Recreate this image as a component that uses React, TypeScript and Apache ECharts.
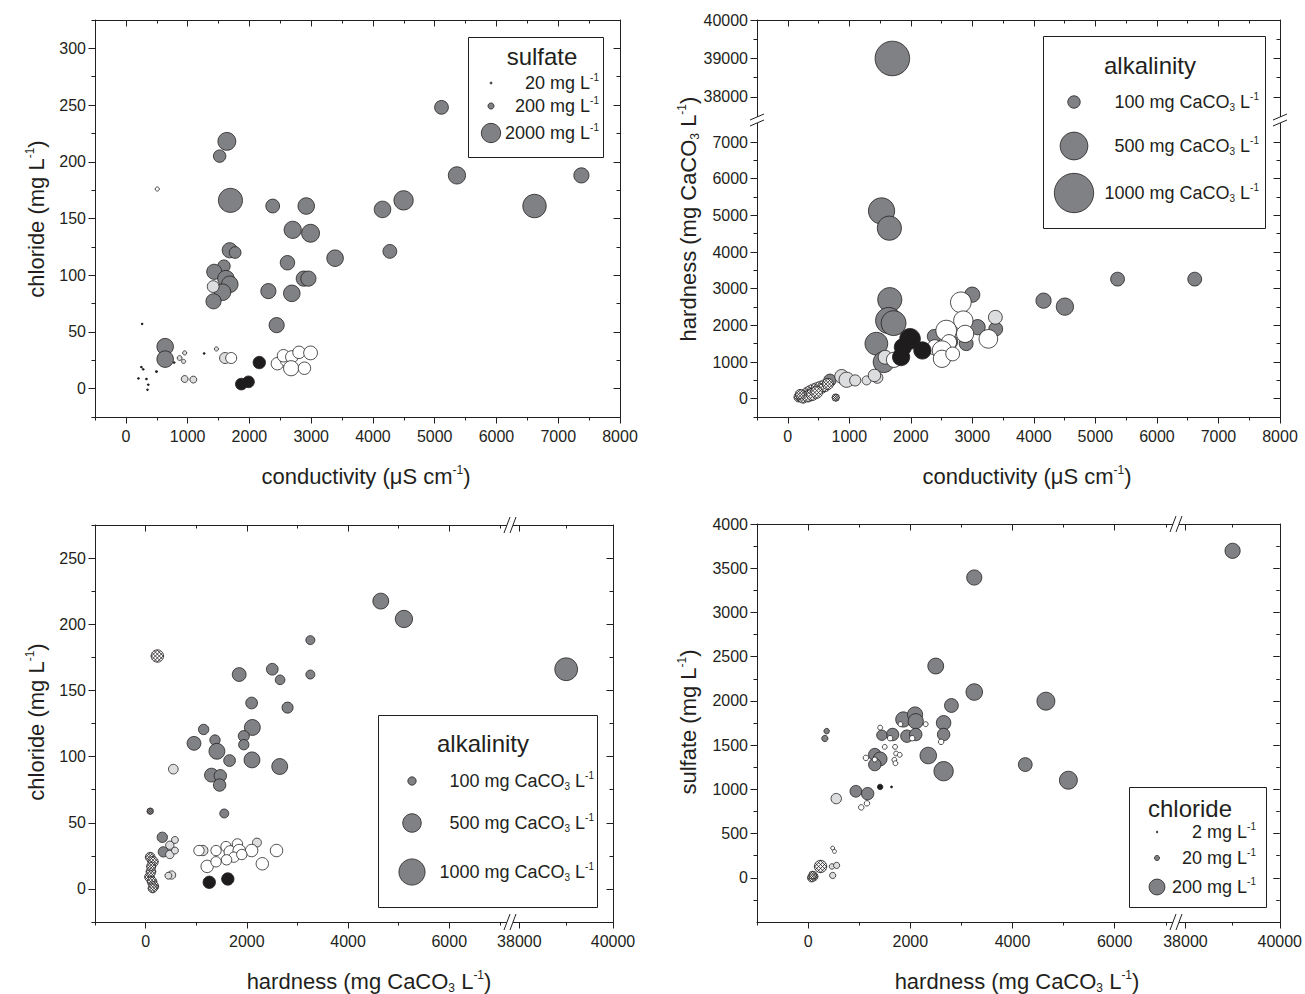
import React, { useEffect, useRef } from 'react';
import * as echarts from 'echarts';

type Pt = [number, number, number];

// ---------- Panel (a): conductivity (µS/cm) vs chloride (mg/L); symbol area ~ sulfate (mg/L)
const aDark: Pt[] = [
  [5110, 248, 1020], [1635, 218, 1720], [1518, 205, 830], [1693, 166, 3120], [2377, 161, 1020],
  [2920, 161, 1470], [5360, 188, 1590], [7375, 188, 1230], [4496, 166, 2000], [6616, 161, 2950],
  [4155, 158, 1470], [2701, 140, 1590], [2990, 137, 1720], [4274, 121, 1020], [1682, 122, 1230],
  [1769, 120, 740], [3387, 115, 1470], [2616, 111, 1120], [1588, 108, 830], [1431, 103, 1230],
  [1620, 97, 1470], [1682, 92, 1470], [2880, 97, 1230], [2955, 97, 1230], [2307, 86, 1230],
  [2686, 84, 1470], [1565, 85, 1470], [1419, 77, 1230], [2441, 56, 1230], [636, 37, 1470], [636, 26, 1470],
];
const aLight: Pt[] = [
  [1413, 90, 740], [1606, 27, 650], [952, 8.5, 255], [1092, 8, 255], [870, 27, 125],
  [952, 31.5, 92], [934, 24, 92], [1466, 35, 92],
];
const aWhite: Pt[] = [
  [508, 176, 92], [1705, 27, 650], [2453, 22, 830], [2600, 25, 830], [2552, 29, 830],
  [2686, 28, 830], [2675, 18, 1230], [2891, 18, 830], [2803, 32, 830], [2990, 31.5, 1020],
];
const aBlack: Pt[] = [[2160, 23, 830], [1869, 4, 740], [1985, 6, 740]];
const aHatch: Pt[] = [
  [263, 57, 8], [251, 19, 8], [280, 17, 8], [204, 9, 6], [333, 8.5, 6], [362, 3.5, 6],
  [350, -1, 6], [496, 15, 20], [782, 23, 10], [1267, 31, 10],
];

// ---------- Panel (b): conductivity vs hardness (mg CaCO3/L); symbol area ~ alkalinity
const bDark: Pt[] = [
  [1700, 39000, 772], [1524, 5120, 446], [1651, 4650, 378], [1658, 2700, 378], [1640, 2130, 446],
  [1720, 2060, 400], [1440, 1500, 336], [1560, 1000, 290], [5360, 3260, 124], [6614, 3260, 124],
  [4157, 2673, 150], [4504, 2510, 193], [2998, 2836, 150], [3085, 1950, 150], [3380, 1900, 124],
  [2380, 1700, 124], [2650, 1550, 124], [2900, 1500, 124], [685, 500, 100],
];
const bLight: Pt[] = [
  [3374, 2220, 124], [1582, 1130, 124], [876, 607, 124], [957, 516, 150], [1096, 498, 80],
  [1281, 498, 52], [1455, 571, 80], [1409, 634, 100],
];
const bWhite: Pt[] = [
  [2813, 2627, 278], [2853, 2130, 242], [2575, 1857, 278], [2882, 1767, 193], [3260, 1631, 225],
  [2621, 1540, 150], [2390, 1400, 150], [2506, 1314, 242], [2506, 1087, 193], [2680, 1220, 124],
  [1727, 1060, 150],
];
const bBlack: Pt[] = [[1987, 1631, 278], [1871, 1404, 193], [2188, 1314, 193], [1842, 1133, 193]];
const bHatch: Pt[] = [
  [180, 40, 60], [230, 70, 80], [280, 100, 90], [330, 150, 100], [380, 190, 110], [430, 230, 110],
  [480, 270, 100], [540, 310, 100], [600, 350, 90], [250, 20, 70], [330, 60, 80], [400, 110, 90],
  [470, 170, 90], [200, 120, 60], [650, 400, 80], [780, 30, 35],
];

// ---------- Panel (c): hardness vs chloride; symbol area ~ alkalinity
const cDark: Pt[] = [
  [4647, 217.5, 367], [5104, 204, 434], [39000, 166, 756], [3255, 188, 117], [3255, 162, 117],
  [2503, 166, 200], [2657, 158, 136], [1849, 162, 278], [2095, 140.5, 200], [2805, 137, 178],
  [2109, 122, 367], [1940, 115.5, 178], [1940, 109, 156], [1146, 120.5, 156], [956, 110, 278],
  [1371, 112.5, 156], [1409, 104, 367], [1659, 97, 200], [2102, 97.5, 367], [2650, 92.5, 367],
  [1301, 86, 278], [1476, 85.5, 225], [1462, 78.5, 225], [1554, 57, 117], [330, 39, 156], [351, 28, 156],
];
const cLight: Pt[] = [
  [548, 90.5, 136], [478, 33, 100], [580, 37, 70], [478, 26, 100], [580, 29, 70],
  [513, 10.5, 100], [450, 10, 70], [2200, 35, 117], [1130, 29, 156],
];
const cWhite: Pt[] = [
  [1054, 29, 156], [1392, 29, 156], [1589, 32, 156], [1673, 28, 225], [1814, 34, 156],
  [1849, 29, 225], [2095, 29, 225], [2587, 29, 225], [2306, 19, 225], [1216, 17, 225],
  [1392, 20.5, 156], [1744, 24, 156], [1600, 22, 156], [1900, 26, 156],
];
const cBlack: Pt[] = [[1258, 5, 225], [1624, 7.5, 225]];
const cHatch: Pt[] = [
  [232, 176, 225], [91, 58.75, 60], [91, 24, 136], [147, 20.5, 156], [77, 9, 136],
  [127, 5.5, 136], [162, 2, 136], [106, 13, 136], [110, 17, 120], [140, 0.5, 120],
];

// ---------- Panel (d): hardness vs sulfate; symbol area ~ chloride
const dDark: Pt[] = [
  [39000, 3697, 184], [3252, 3395, 184], [2498, 2394, 200], [3252, 2100, 219], [2805, 1948, 152],
  [4654, 1997, 257], [2652, 1752, 168], [2652, 1620, 123], [2352, 1382, 219], [2652, 1205, 298],
  [4250, 1280, 152], [5094, 1103, 257], [1863, 1790, 184], [2093, 1846, 184], [2107, 1770, 184],
  [1654, 1620, 123], [1933, 1601, 123], [2107, 1620, 123], [1444, 1612, 86], [1305, 1393, 123],
  [1410, 1344, 152], [1305, 1280, 123], [935, 978, 110], [1165, 951, 123], [363, 1658, 24], [328, 1575, 31],
];
const dLight: Pt[] = [[551, 895, 86], [467, 128, 24], [558, 140, 31], [481, 26, 31]];
const dWhite: Pt[] = [
  [1410, 1698, 19], [1605, 1578, 24], [1807, 1737, 19], [2037, 1578, 24], [2302, 1737, 19],
  [2603, 1537, 24], [1500, 1480, 19], [1702, 1480, 19], [1723, 1405, 19], [1793, 1390, 19],
  [1688, 1333, 19], [1709, 1295, 19], [1131, 1356, 24], [1305, 1337, 19], [1040, 796, 24], [1152, 842, 24],
  [481, 336, 12], [516, 298, 12],
];
const dBlack: Pt[] = [[1410, 1027, 24], [1633, 1027, 3.4]];
const dHatch: Pt[] = [[244, 128, 123], [105, 15, 64], [70, 0, 55], [90, 30, 50]];

// ---------- legend values
const sulfateLegend = [20, 200, 2000];
const alkLegend = [100, 500, 1000];
const chlorideLegend = [2, 20, 200];

// ---------- ticks
const condMajor = [0, 1000, 2000, 3000, 4000, 5000, 6000, 7000, 8000];
const condMinor = [-500, 500, 1500, 2500, 3500, 4500, 5500, 6500, 7500];
const clMajorA = [0, 50, 100, 150, 200, 250, 300];
const clMinorA = [-25, 25, 75, 125, 175, 225, 275, 325];
const hardUpMajor = [38000, 39000, 40000];
const hardUpMinor = [38500, 39500];
const hardLoMajor = [0, 1000, 2000, 3000, 4000, 5000, 6000, 7000];
const hardLoMinor = [-500, 500, 1500, 2500, 3500, 4500, 5500, 6500];
const hardXLoMajor = [0, 2000, 4000, 6000];
const hardXLoMinor = [-1000, 1000, 3000, 5000, 7000];
const hardXUpMajor = [38000, 40000];
const hardXUpMinor = [39000];
const clMajorC = [0, 50, 100, 150, 200, 250];
const clMinorC = [-25, 25, 75, 125, 175, 225, 275];
const so4Major = [0, 500, 1000, 1500, 2000, 2500, 3000, 3500, 4000];
const so4Minor = [-250, 250, 750, 1250, 1750, 2250, 2750, 3250, 3750];

const INK = '#231f20';
const FONT = "'Liberation Sans', Arial, Helvetica, sans-serif";
const C_DARK = '#808184';
const C_LIGHT = '#dcddde';
const C_WHITE = '#ffffff';
const C_BLACK = '#1e1c1d';

interface Seg { min: number; max: number; p0: number; p1: number; major: number[]; minor: number[] }
interface Group { data: Pt[]; fill: string; symbol?: string }
interface Panel { k: number; xs: Seg[]; ys: Seg[]; groups: Group[] }

// cross-hatched circle symbol (unit circle with chords in both diagonal directions)
function hatchSymbol(): string {
  let d = 'M1 0A1 1 0 1 1 -1 0A1 1 0 1 1 1 0Z';
  const s = Math.SQRT1_2;
  const f = (v: number) => v.toFixed(3);
  [-0.66, -0.22, 0.22, 0.66].forEach((o) => {
    const h = Math.sqrt(1 - o * o);
    const ax = o * s, ay = o * s;
    d += `M${f(ax + h * s)} ${f(ay - h * s)}L${f(ax - h * s)} ${f(ay + h * s)}`;
    const bx = o * s, by = -o * s;
    d += `M${f(bx + h * s)} ${f(by + h * s)}L${f(bx - h * s)} ${f(by - h * s)}`;
  });
  return 'path://' + d;
}

function richStyle(fs: number) {
  const small = Math.round(fs * 0.55);
  return {
    t: { fontSize: fs, fontFamily: FONT, fill: INK, lineHeight: Math.round(fs * 1.15) },
    sup: { fontSize: small, fontFamily: FONT, fill: INK, verticalAlign: 'top', lineHeight: small },
    sub: { fontSize: small, fontFamily: FONT, fill: INK, verticalAlign: 'bottom', lineHeight: small },
  };
}

function textEl(text: string, x: number, y: number, fs: number, align: string, rotation = 0) {
  return {
    type: 'text', x, y, rotation, z: 100, silent: true,
    style: {
      text, x: 0, y: 0, fill: INK, fontSize: fs, fontFamily: FONT,
      align, textAlign: align, verticalAlign: 'middle', textVerticalAlign: 'middle',
      rich: richStyle(fs),
    },
  };
}

function buildOption() {
  const grids: any[] = [];
  const xAxes: any[] = [];
  const yAxes: any[] = [];
  const series: any[] = [];
  const graphics: any[] = [];
  const hatch = hatchSymbol();

  const decor = (kind: 'x' | 'y', gi: number, s: Seg, position: string, inside: boolean, labels: boolean, minor: boolean) => ({
    type: 'value', gridIndex: gi, position, min: s.min, max: s.max, silent: true,
    axisLine: { show: !minor, onZero: false, lineStyle: { color: INK, width: 1 } },
    axisTick: { show: true, inside, length: minor ? 3.5 : 6.5, customValues: minor ? s.minor : s.major, lineStyle: { color: INK, width: 1 } },
    axisLabel: labels && !minor
      ? { show: true, customValues: s.major, formatter: (v: number) => String(v), margin: kind === 'x' ? 11 : 9, color: INK, fontSize: 16, fontFamily: FONT }
      : { show: false },
    splitLine: { show: false },
    z: 6,
  });

  const addPanel = (p: Panel) => {
    p.xs.forEach((xs, i) => {
      p.ys.forEach((ys, j) => {
        const gi = grids.length;
        grids.push({ left: xs.p0, top: ys.p0, width: xs.p1 - xs.p0, height: ys.p1 - ys.p0, containLabel: false, show: false });
        const xi = xAxes.length;
        xAxes.push({ type: 'value', gridIndex: gi, show: false, min: xs.min, max: xs.max, splitLine: { show: false } });
        const yi = yAxes.length;
        yAxes.push({ type: 'value', gridIndex: gi, show: false, min: ys.min, max: ys.max, splitLine: { show: false } });
        if (j === p.ys.length - 1) {
          xAxes.push(decor('x', gi, xs, 'bottom', false, true, false));
          xAxes.push(decor('x', gi, xs, 'bottom', false, false, true));
        }
        if (j === 0) {
          xAxes.push(decor('x', gi, xs, 'top', true, false, false));
          xAxes.push(decor('x', gi, xs, 'top', true, false, true));
        }
        if (i === 0) {
          yAxes.push(decor('y', gi, ys, 'left', false, true, false));
          yAxes.push(decor('y', gi, ys, 'left', false, false, true));
        }
        if (i === p.xs.length - 1) {
          yAxes.push(decor('y', gi, ys, 'right', true, false, false));
          yAxes.push(decor('y', gi, ys, 'right', true, false, true));
        }
        p.groups.forEach((g, order) => {
          const pts = g.data.filter((d) => d[0] >= xs.min && d[0] <= xs.max && d[1] >= ys.min && d[1] <= ys.max);
          if (!pts.length) return;
          series.push({
            type: 'scatter', xAxisIndex: xi, yAxisIndex: yi, data: pts, symbol: g.symbol || 'circle',
            symbolSize: (v: number[]) => Math.max(1.6, p.k * Math.sqrt(v[2])),
            itemStyle: { color: g.fill, borderColor: INK, borderWidth: 0.8, opacity: 1 },
            silent: true, z: 3 + order, clip: false,
            emphasis: { disabled: true },
          });
        });
      });
    });
  };

  const groupsOf = (d: Pt[], l: Pt[], w: Pt[], b: Pt[], h: Pt[]): Group[] => [
    { data: d, fill: C_DARK }, { data: l, fill: C_LIGHT }, { data: w, fill: C_WHITE },
    { data: b, fill: C_BLACK }, { data: h, fill: C_WHITE, symbol: hatch },
  ];

  const kA = 0.432, kB = 1.243, kC = 0.829, kD = 1.12;

  addPanel({
    k: kA,
    xs: [{ min: -500, max: 8000, p0: 95, p1: 620, major: condMajor, minor: condMinor }],
    ys: [{ min: -25, max: 325, p0: 20, p1: 417, major: clMajorA, minor: clMinorA }],
    groups: groupsOf(aDark, aLight, aWhite, aBlack, aHatch),
  });
  addPanel({
    k: kB,
    xs: [{ min: -500, max: 8000, p0: 757, p1: 1280, major: condMajor, minor: condMinor }],
    ys: [
      { min: 37400, max: 40000, p0: 20, p1: 120, major: hardUpMajor, minor: hardUpMinor },
      { min: -500, max: 7600, p0: 120, p1: 417, major: hardLoMajor, minor: hardLoMinor },
    ],
    groups: groupsOf(bDark, bLight, bWhite, bBlack, bHatch),
  });
  addPanel({
    k: kC,
    xs: [
      { min: -1000, max: 7200, p0: 95, p1: 510, major: hardXLoMajor, minor: hardXLoMinor },
      { min: 37800, max: 40000, p0: 510, p1: 613, major: hardXUpMajor, minor: hardXUpMinor },
    ],
    ys: [{ min: -25, max: 275, p0: 525, p1: 922, major: clMajorC, minor: clMinorC }],
    groups: groupsOf(cDark, cLight, cWhite, cBlack, cHatch),
  });
  addPanel({
    k: kD,
    xs: [
      { min: -1000, max: 7200, p0: 757, p1: 1176, major: hardXLoMajor, minor: hardXLoMinor },
      { min: 37800, max: 40000, p0: 1176, p1: 1280, major: hardXUpMajor, minor: hardXUpMinor },
    ],
    ys: [{ min: -500, max: 4000, p0: 524, p1: 922, major: so4Major, minor: so4Minor }],
    groups: groupsOf(dDark, dLight, dWhite, dBlack, dHatch),
  });

  // axis titles
  const clTitle = '{t|chloride (mg L}{sup|-1}{t|)}';
  const condTitle = '{t|conductivity (μS cm}{sup|-1}{t|)}';
  const hardTitle = '{t|hardness (mg CaCO}{sub|3}{t| L}{sup|-1}{t|)}';
  const so4Title = '{t|sulfate (mg L}{sup|-1}{t|)}';
  graphics.push(textEl(clTitle, 36, 219, 22, 'center', Math.PI / 2));
  graphics.push(textEl(condTitle, 366, 476, 22, 'center'));
  graphics.push(textEl(hardTitle, 688, 219, 22, 'center', Math.PI / 2));
  graphics.push(textEl(condTitle, 1027, 476, 22, 'center'));
  graphics.push(textEl(clTitle, 36, 722, 22, 'center', Math.PI / 2));
  graphics.push(textEl(hardTitle, 369, 981, 22, 'center'));
  graphics.push(textEl(so4Title, 688, 722, 22, 'center', Math.PI / 2));
  graphics.push(textEl(hardTitle, 1017, 981, 22, 'center'));

  // legends
  const box = (x0: number, y0: number, x1: number, y1: number) => ({
    type: 'rect', z: 90, silent: true,
    shape: { x: x0 + 0.5, y: y0 + 0.5, width: x1 - x0, height: y1 - y0 },
    style: { fill: '#ffffff', stroke: INK, lineWidth: 1 },
  });
  const dot = (cx: number, cy: number, d: number) => ({
    type: 'circle', z: 95, silent: true,
    shape: { cx, cy, r: Math.max(0.8, d / 2) },
    style: { fill: C_DARK, stroke: INK, lineWidth: 0.8 },
  });
  const unitMg = (v: number) => `{t|${v} mg L}{sup|-1}`;
  const unitCa = (v: number) => `{t|${v} mg CaCO}{sub|3}{t| L}{sup|-1}`;

  graphics.push(box(468, 37, 603, 157));
  graphics.push(textEl('{t|sulfate}', 542, 56, 24, 'center'));
  [83, 106, 133].forEach((y, i) => {
    graphics.push(dot(491, y, kA * Math.sqrt(sulfateLegend[i])));
    graphics.push(textEl(unitMg(sulfateLegend[i]), 599, y, 18, 'right'));
  });
  graphics.push(box(1043, 36, 1265, 228));
  graphics.push(textEl('{t|alkalinity}', 1150, 65, 24, 'center'));
  [102, 146, 193].forEach((y, i) => {
    graphics.push(dot(1074, y, kB * Math.sqrt(alkLegend[i])));
    graphics.push(textEl(unitCa(alkLegend[i]), 1259, y, 18, 'right'));
  });
  graphics.push(box(378, 715, 597, 907));
  graphics.push(textEl('{t|alkalinity}', 483, 743, 24, 'center'));
  [781, 823, 872].forEach((y, i) => {
    graphics.push(dot(412, y, kC * Math.sqrt(alkLegend[i])));
    graphics.push(textEl(unitCa(alkLegend[i]), 594, y, 18, 'right'));
  });
  graphics.push(box(1129, 787, 1266, 907));
  graphics.push(textEl('{t|chloride}', 1190, 808, 24, 'center'));
  [832, 858, 887].forEach((y, i) => {
    graphics.push(dot(1157, y, kD * Math.sqrt(chlorideLegend[i])));
    graphics.push(textEl(unitMg(chlorideLegend[i]), 1256, y, 18, 'right'));
  });

  // axis break marks
  const line = (x1: number, y1: number, x2: number, y2: number) => ({
    type: 'line', z: 110, silent: true, shape: { x1, y1, x2, y2 }, style: { stroke: INK, lineWidth: 1 },
  });
  const breakV = (x: number, y: number) => {
    graphics.push({ type: 'rect', z: 105, silent: true, shape: { x: x - 3, y: y - 3, width: 6, height: 6 }, style: { fill: '#ffffff' } });
    graphics.push(line(x - 7, y, x + 7, y - 6));
    graphics.push(line(x - 7, y + 6, x + 7, y));
  };
  const breakH = (x: number, y: number) => {
    graphics.push({ type: 'rect', z: 105, silent: true, shape: { x: x - 3, y: y - 3, width: 6, height: 6 }, style: { fill: '#ffffff' } });
    graphics.push(line(x - 6, y + 8, x, y - 8));
    graphics.push(line(x, y + 8, x + 6, y - 8));
  };
  breakV(757, 120);
  breakV(1280, 120);
  breakH(510, 525);
  breakH(510, 922);
  breakH(1176, 524);
  breakH(1176, 922);

  return {
    animation: false,
    backgroundColor: '#ffffff',
    textStyle: { fontFamily: FONT },
    grid: grids,
    xAxis: xAxes,
    yAxis: yAxes,
    series,
    graphic: { elements: graphics },
  };
}

export default function App() {
  const ref = useRef<HTMLDivElement>(null);
  useEffect(() => {
    if (!ref.current) return;
    const chart = echarts.init(ref.current, undefined, { renderer: 'svg' });
    chart.setOption(buildOption() as any);
    return () => chart.dispose();
  }, []);
  return <div ref={ref} style={{ position: 'absolute', left: 0, top: 0, width: 1305, height: 994, background: '#fff' }} />;
}
